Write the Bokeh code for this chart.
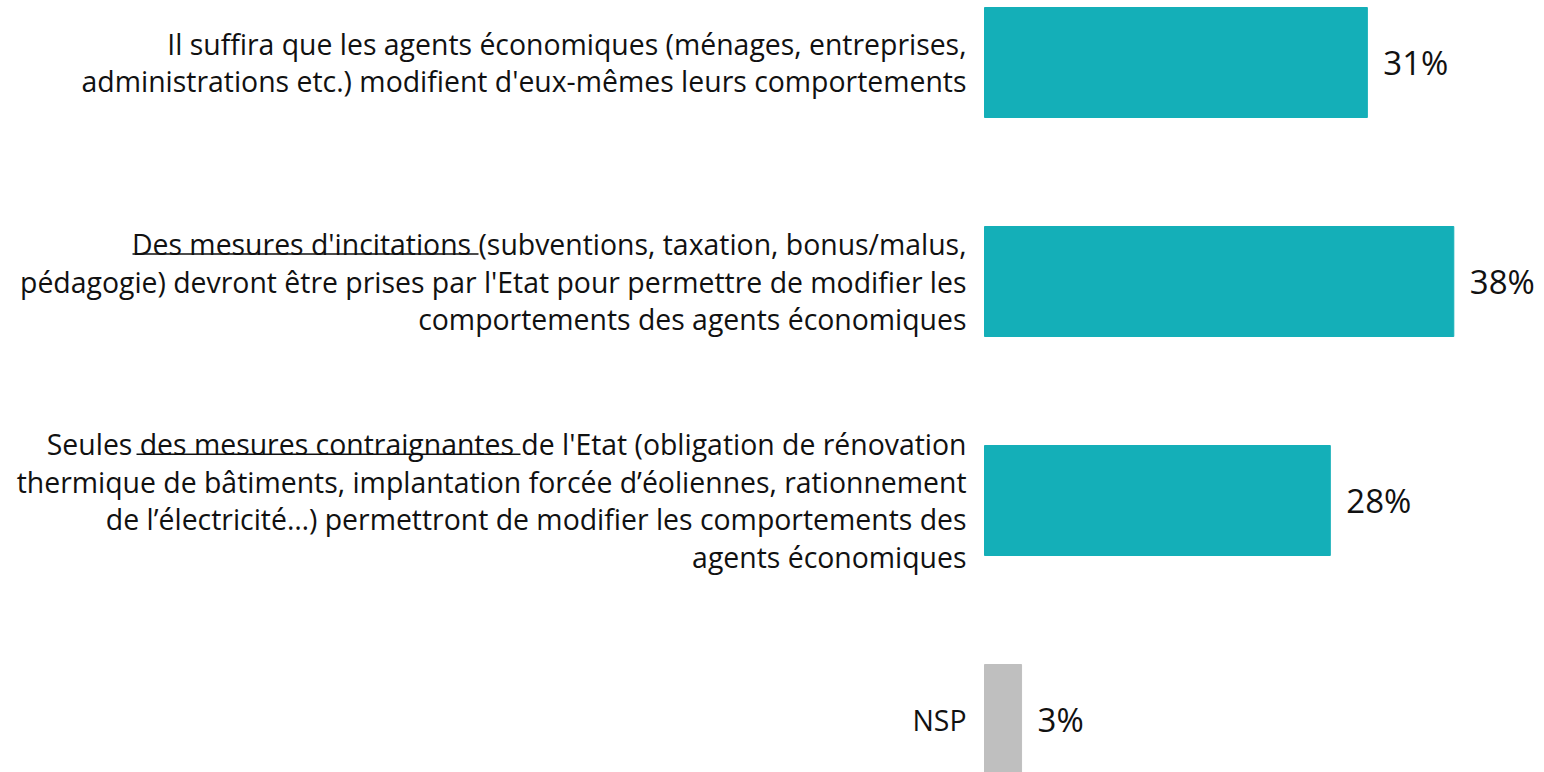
from bokeh.plotting import figure
from bokeh.models import Range1d, ColumnDataSource
from bokeh.core.properties import value
from bokeh.embed import file_html
from bokeh.resources import INLINE

# ---- data ----
label_lines = [
    ["Il suffira que les agents économiques (ménages, entreprises,",
     "administrations etc.) modifient d'eux-mêmes leurs comportements"],
    ["Des mesures d'incitations (subventions, taxation, bonus/malus,",
     "pédagogie) devront être prises par l'Etat pour permettre de modifier les",
     "comportements des agents économiques"],
    ["Seules des mesures contraignantes de l'Etat (obligation de rénovation",
     "thermique de bâtiments, implantation forcée d’éoliennes, rationnement",
     "de l’électricité…) permettront de modifier les comportements des",
     "agents économiques"],
    ["NSP"],
]
values = [31, 38, 28, 3]
value_labels = ["31%", "38%", "28%", "3%"]
colors = ["#14AFB8", "#14AFB8", "#14AFB8", "#BFBFBF"]

# ---- layout constants ----
W, H = 1544, 772
PX_PER_UNIT_X = 12.35
ZERO_X = 984
ROW_PX = 219
FIRST_CENTER = 62
LINE_PX = 37.5
FONT = "Open Sans"
FSIZE = "28.4px"
VSIZE = "33px"

ys = [-i for i in range(len(values))]

p = figure(width=W, height=H, output_backend="svg", toolbar_location=None,
           x_range=Range1d(-ZERO_X / PX_PER_UNIT_X, (W - ZERO_X) / PX_PER_UNIT_X),
           y_range=Range1d(-(H - FIRST_CENTER) / ROW_PX, FIRST_CENTER / ROW_PX),
           min_border=0, tools="")
p.axis.visible = False
p.grid.visible = False
p.outline_line_color = None
p.background_fill_color = "white"
p.border_fill_color = "white"

bars = ColumnDataSource(dict(y=ys, right=values, color=colors, lab=value_labels))
p.hbar(y="y", left=0, right="right", height=110 / ROW_PX, color="color", source=bars)
p.text(x="right", y="y", text="lab", source=bars, x_offset=16,
       text_align="left", text_baseline="middle",
       text_font=value(FONT), text_font_size=VSIZE, text_color="#111111")

# category labels, line by line, right-aligned left of the bars
lx, ly, lt = [], [], []
for i, lines in enumerate(label_lines):
    n = len(lines)
    for k, t in enumerate(lines):
        lx.append(0)
        ly.append(ys[i] - (k - (n - 1) / 2) * LINE_PX / ROW_PX)
        lt.append(t)
p.text(x=lx, y=ly, text=lt, x_offset=-18, text_align="right", text_baseline="middle",
       text_font=value(FONT), text_font_size=FSIZE, text_color="#111111")

# underlines (pixel extents measured from the right edge of the text)
# (row, line index, px from right edge where underline starts, px where it ends)
underlines = [(1, 0, 834, 488), (2, 0, 830, 446)]
ux0, ux1, uy = [], [], []
for row, k, start_px, end_px in underlines:
    n = len(label_lines[row])
    yline = ys[row] - (k - (n - 1) / 2) * LINE_PX / ROW_PX
    ux0.append((-18 - start_px) / PX_PER_UNIT_X)
    ux1.append((-18 - end_px) / PX_PER_UNIT_X)
    uy.append(yline - 10 / ROW_PX)
p.segment(x0=ux0, y0=uy, x1=ux1, y1=uy, line_color="#111111", line_width=1.5)

open("out.html", "w").write(file_html(p, INLINE))
